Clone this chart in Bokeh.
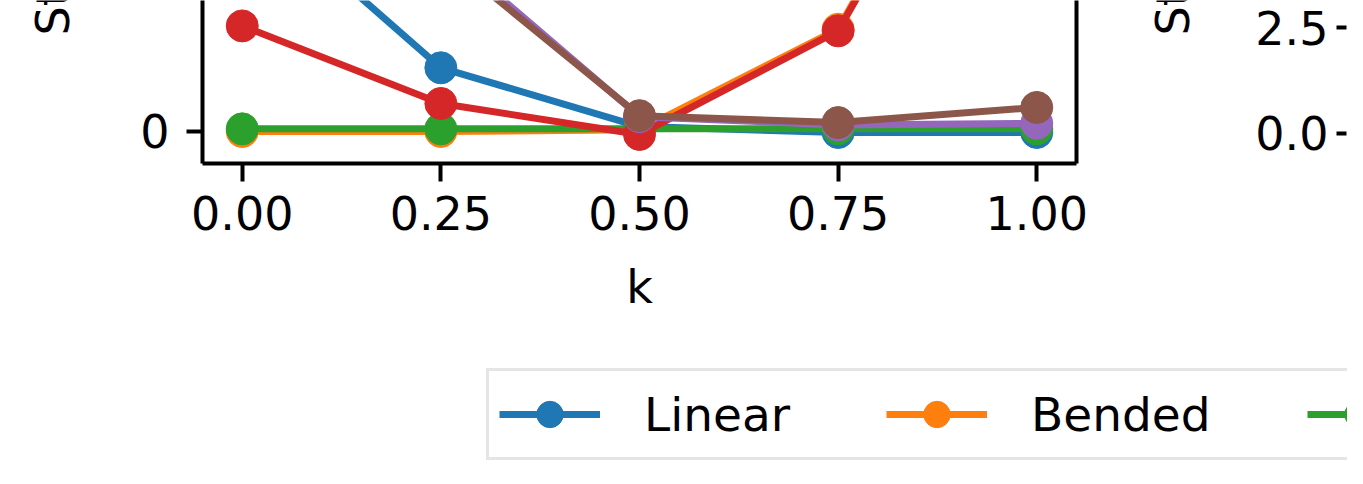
import numpy as np
from bokeh.plotting import figure
from bokeh.layouts import row, column
from bokeh.models import (Range1d, FixedTicker, NumeralTickFormatter, LinearAxis,
                          Legend, LegendItem)
from bokeh.core.properties import value
from bokeh.embed import file_html
from bokeh.resources import INLINE

# ---------------- data ----------------
k_values = [0.0, 0.25, 0.5, 0.75, 1.0]
x_tick_values = [0.0, 0.25, 0.5, 0.75, 1.0]
left_y_ticks = [0, 5, 10, 15, 20]
right_y_ticks = [0.0, 2.5, 5.0, 7.5]

linear = [7.2, 1.93, 0.15, -0.03, -0.03]
bended = [0.0, 0.0, 0.05, 3.1, 13.8]
series3 = [0.08, 0.08, 0.08, 0.08, 0.08]
series4 = [3.2, 0.85, -0.09, 3.05, 13.6]
series5 = [19.4, 5.6, 0.45, 0.2, 0.25]
series6 = [18.5, 5.4, 0.48, 0.27, 0.73]

series_names = ["Linear", "Bended", "Curved"]
colors = ["#1f77b4", "#ff7f0e", "#2ca02c", "#d62728", "#9467bd", "#8c564b"]
all_series = [linear, bended, series3, series4, series5, series6]

left_ylabel = "St"
right_ylabel = "St"
xlabel = "k"

FONT = "DejaVu Sans"
TICK_FS = "46px"
ROW_H = 340


def style_axis(ax):
    ax.axis_line_width = 4
    ax.axis_line_color = "black"
    ax.major_tick_line_width = 4
    ax.major_tick_line_color = "black"
    ax.minor_tick_line_color = None
    ax.major_tick_in = 0
    ax.major_label_text_font = FONT
    ax.major_label_text_font_size = TICK_FS
    ax.major_label_text_color = "black"
    ax.axis_label_text_font = FONT
    ax.axis_label_text_font_size = TICK_FS
    ax.axis_label_text_font_style = "normal"
    ax.axis_label_text_color = "black"


def blank(fig):
    fig.outline_line_color = None
    fig.xgrid.grid_line_color = None
    fig.ygrid.grid_line_color = None
    fig.background_fill_color = "white"
    fig.border_fill_color = "white"


def label_strip(width, text, tx, ty):
    f = figure(width=width, height=ROW_H, title=None,
               x_range=Range1d(0, width), y_range=Range1d(0, ROW_H),
               output_backend="svg", toolbar_location=None,
               x_axis_location=None, y_axis_location=None, min_border=0)
    blank(f)
    f.text(x=[tx], y=[ROW_H - ty], text=[text], angle=np.pi / 2,
           text_align="left", text_baseline="middle",
           text_font=value(FONT), text_font_size=value(TICK_FS),
           text_color="black")
    return f


# ---------------- left y label strip ----------------
pL = label_strip(80, left_ylabel, 52, 73)

# ---------------- left plot ----------------
p1 = figure(width=1060, height=ROW_H, title=None,
            x_range=Range1d(-0.05, 1.05), y_range=Range1d(-0.970, 3.970),
            output_backend="svg", toolbar_location=None,
            min_border_left=122, min_border_right=64,
            min_border_top=0, min_border_bottom=ROW_H - 163)
blank(p1)

for vals, c in zip(all_series, colors):
    p1.line(k_values, vals, line_color=c, line_width=7)
    p1.scatter(k_values, vals, size=32, fill_color=c, line_color=c)

p1.xaxis.ticker = FixedTicker(ticks=x_tick_values)
p1.xaxis.formatter = NumeralTickFormatter(format="0.00")
p1.yaxis.ticker = FixedTicker(ticks=left_y_ticks)
for ax in p1.xaxis + p1.yaxis:
    style_axis(ax)
p1.xaxis.major_tick_out = 18
p1.xaxis.major_label_standoff = 14
p1.xaxis.axis_label = xlabel
p1.xaxis.axis_label_standoff = 27
p1.yaxis.major_tick_out = 16
p1.yaxis.major_label_standoff = 17

right_spine = LinearAxis(ticker=FixedTicker(ticks=[]), axis_line_width=4,
                         axis_line_color="black", major_tick_line_color=None,
                         minor_tick_line_color=None, major_label_text_alpha=0,
                         major_label_text_font_size="1px")
p1.add_layout(right_spine, "right")

# ---------------- right y label strip ----------------
pRL = label_strip(60, right_ylabel, 32, 73)

# ---------------- right plot (only its y axis is in view) ----------------
p2 = figure(width=147, height=ROW_H, title=None,
            x_range=Range1d(0, 1), y_range=Range1d(-0.708, 3.137),
            output_backend="svg", toolbar_location=None,
            x_axis_location=None,
            min_border_left=146, min_border_right=0,
            min_border_top=0, min_border_bottom=ROW_H - 163)
blank(p2)
p2.yaxis.ticker = FixedTicker(ticks=right_y_ticks)
p2.yaxis.formatter = NumeralTickFormatter(format="0.0")
style_axis(p2.yaxis[0])
p2.yaxis.axis_line_color = None
p2.yaxis.major_tick_out = 10
p2.yaxis.major_label_standoff = 8

# ---------------- legend strip ----------------
LEG_H = 128
p3 = figure(width=1347, height=LEG_H, title=None,
            x_range=Range1d(100, 101), y_range=Range1d(100, 101),
            output_backend="svg", toolbar_location=None,
            x_axis_location=None, y_axis_location=None, min_border=0)
blank(p3)

items = []
for name, vals, c in zip(series_names, all_series, colors):
    lr = p3.line(k_values, vals, line_color=c, line_width=7)
    sr = p3.scatter(k_values, vals, size=32, fill_color=c, line_color=c)
    items.append(LegendItem(label=name, renderers=[lr, sr]))

legend = Legend(items=items, orientation="horizontal", location=(486, 8),
                glyph_width=101, glyph_height=66, label_standoff=44, spacing=96,
                padding=10, margin=0, label_text_font=FONT,
                label_text_font_size="47px", label_text_color="black",
                border_line_color="#cccccc", border_line_width=3,
                background_fill_color="white", background_fill_alpha=0.8)
p3.add_layout(legend, "center")

layout = column(row(pL, p1, pRL, p2), p3)

open("out.html", "w").write(file_html(layout, INLINE))
